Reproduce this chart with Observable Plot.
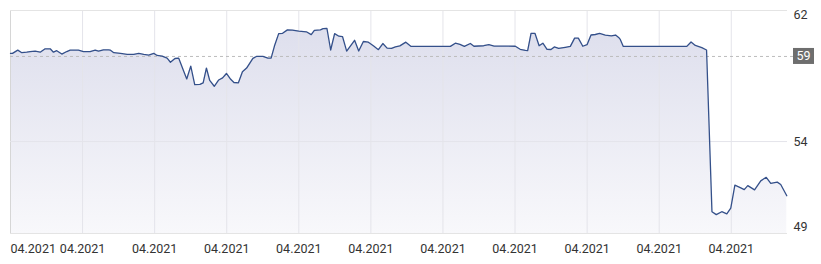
<!DOCTYPE html>
<html><head><meta charset="utf-8">
<script src="https://cdn.jsdelivr.net/npm/d3@7"></script>
<script src="https://cdn.jsdelivr.net/npm/@observablehq/plot@0.6"></script>
<style>
body{margin:0;background:#fff;}
#chart svg{display:block;font-family:Roboto,"Noto Sans",sans-serif;}
</style>
</head><body><div id="chart"></div>
<script>
// time index (10 units between grid lines)
const xs = [0,0.28,1.01,1.57,2.26,2.73,3.43,4.12,4.81,5.51,5.96,6.42,7.12,7.81,8.28,9.43,10.12,11.05,11.75,12.21,12.9,13.59,13.87,14.33,15.26,16.19,17.1,17.79,18.49,19.18,19.88,20.35,21.04,21.73,22.19,22.82,23.34,23.9,24.45,25.01,25.56,26.28,26.73,27.18,27.64,28.27,28.89,29.43,29.96,30.55,31.0,31.62,32.18,32.76,33.63,34.12,35.02,35.71,36.16,36.62,37.21,37.75,38.42,39.11,39.99,41.05,41.72,42.16,43.0,43.37,43.9,44.42,44.97,45.56,46.07,46.64,47.74,48.31,48.96,49.65,50.39,51.04,51.66,52.25,52.87,53.4,54.02,54.85,55.58,57.4,59.2,61.03,61.72,62.36,62.97,63.8,64.3,65.65,66.37,67.1,68.6,70.04,70.71,71.43,71.75,72.22,72.76,73.34,73.86,74.44,74.99,75.45,76.05,76.98,77.67,78.27,78.78,79.4,79.99,80.54,81.14,81.73,82.52,83.36,83.95,84.37,84.6,85.02,87.2,89.4,91.6,93.83,94.42,95.01,95.91,96.57,97.32,97.92,98.68,99.38,99.93,100.5,101.32,101.8,102.29,103.23,104.09,104.85,105.48,106.38,106.86,107.7];
const values = [59.18,59.18,59.37,59.22,59.25,59.29,59.31,59.25,59.45,59.45,59.25,59.34,59.14,59.29,59.37,59.37,59.29,59.29,59.37,59.31,59.39,59.39,59.37,59.22,59.18,59.12,59.12,59.18,59.12,59.08,59.18,59.06,59.02,58.9,58.66,58.88,58.9,58.28,57.68,58.43,57.35,57.36,57.45,58.32,57.59,57.25,57.62,57.74,58.0,57.66,57.47,57.45,58.1,58.32,58.89,59.0,59.0,58.9,58.9,59.61,60.34,60.36,60.56,60.55,60.49,60.45,60.28,60.53,60.56,60.63,60.65,59.38,60.34,60.19,60.16,59.31,59.95,59.32,59.88,59.84,59.61,59.4,59.76,59.49,59.48,59.56,59.62,59.84,59.59,59.59,59.59,59.59,59.78,59.71,59.59,59.76,59.6,59.63,59.69,59.61,59.61,59.6,59.42,59.36,59.34,60.36,60.36,59.63,59.78,59.42,59.41,59.56,59.47,59.54,59.59,60.08,60.08,59.6,59.69,60.26,60.29,60.35,60.25,60.21,60.26,60.12,60.0,59.59,59.59,59.59,59.59,59.59,59.85,59.65,59.52,59.38,49.88,49.71,49.88,49.75,50.09,51.44,51.28,51.18,51.41,51.16,51.69,51.9,51.54,51.62,51.48,50.82];

const xTicks = [0,10,20,30,40,50,60,70,80,90,100];
const xTickLabels = ["04.2021","04.2021","04.2021","04.2021","04.2021","04.2021","04.2021","04.2021","04.2021","04.2021","04.2021"];
const yTicks = [62, 54, 49];
const refValue = 59;
const xDomain = [0, 107.8];
const yDomain = [48.6, 61.7];

const data = xs.map((x, i) => ({x, v: values[i]}));
const ns = "http://www.w3.org/2000/svg";

function gradientDefs() {
  const defs = document.createElementNS(ns, "defs");
  const lg = document.createElementNS(ns, "linearGradient");
  lg.setAttribute("id", "areaFill");
  lg.setAttribute("x1", "0"); lg.setAttribute("y1", "0");
  lg.setAttribute("x2", "0"); lg.setAttribute("y2", "1");
  [["0%", "#dedfed"], ["100%", "#f8f8fb"]].forEach(([o, c]) => {
    const s = document.createElementNS(ns, "stop");
    s.setAttribute("offset", o); s.setAttribute("stop-color", c);
    lg.appendChild(s);
  });
  defs.appendChild(lg);
  return defs;
}

function refBadge(index, scales, vals, dims) {
  const g = document.createElementNS(ns, "g");
  const y = scales.y(refValue);
  const x0 = dims.width - dims.marginRight + 6;
  const r = document.createElementNS(ns, "rect");
  r.setAttribute("x", x0); r.setAttribute("y", y - 8);
  r.setAttribute("width", 21); r.setAttribute("height", 16);
  r.setAttribute("fill", "#6e6e6e");
  g.appendChild(r);
  const t = document.createElementNS(ns, "text");
  t.setAttribute("x", x0 + 10.5); t.setAttribute("y", y);
  t.setAttribute("text-anchor", "middle");
  t.setAttribute("dy", "0.35em");
  t.setAttribute("fill", "#fff");
  t.setAttribute("font-size", "12.5");
  t.textContent = String(refValue);
  g.appendChild(t);
  return g;
}

const labelOf = (d) => xTickLabels[xTicks.indexOf(d)];

const chart = Plot.plot({
  width: 821,
  height: 264,
  marginLeft: 10,
  marginRight: 34,
  marginTop: 10,
  marginBottom: 31,
  style: {background: "#fff", fontFamily: "Roboto, sans-serif", fontSize: "12.5px"},
  x: {domain: xDomain, axis: null},
  y: {domain: yDomain, axis: null, clamp: true},
  marks: [
    gradientDefs,
    Plot.areaY(data, {x: "x", y: "v", fill: "url(#areaFill)"}),
    Plot.ruleX(xTicks.slice(1), {stroke: "#e4e4ea", strokeWidth: 1}),
    Plot.ruleX([xDomain[0]], {stroke: "#d6d6d6", strokeWidth: 1}),
    Plot.ruleY([yDomain[1], yDomain[0]], {stroke: "#e4e4e4", strokeWidth: 1}),
    Plot.ruleY([54], {stroke: "#e4e4ea", strokeWidth: 1}),
    Plot.ruleY([refValue], {stroke: "#bdbdbd", strokeDasharray: "3,3", strokeWidth: 1, insetRight: -6}),
    Plot.lineY(data, {x: "x", y: "v", stroke: "#34508a", strokeWidth: 1.3}),
    Plot.text(xTicks.slice(0, 1), {x: d => d, text: labelOf, frameAnchor: "bottom", dy: 19, textAnchor: "start", fill: "#333", fontSize: 12.5}),
    Plot.text(xTicks.slice(1), {x: d => d, text: labelOf, frameAnchor: "bottom", dy: 19, textAnchor: "middle", fill: "#333", fontSize: 12.5}),
    Plot.text(yTicks.filter(d => d > yDomain[1]), {y: d => d, text: d => String(d), frameAnchor: "right", dx: 6, textAnchor: "start", lineAnchor: "top", fill: "#333", fontSize: 12.5}),
    Plot.text(yTicks.filter(d => d <= yDomain[1]), {y: d => d, text: d => String(d), frameAnchor: "right", dx: 6, textAnchor: "start", fill: "#333", fontSize: 12.5}),
    refBadge
  ]
});
document.getElementById("chart").appendChild(chart);
</script>
</body></html>
